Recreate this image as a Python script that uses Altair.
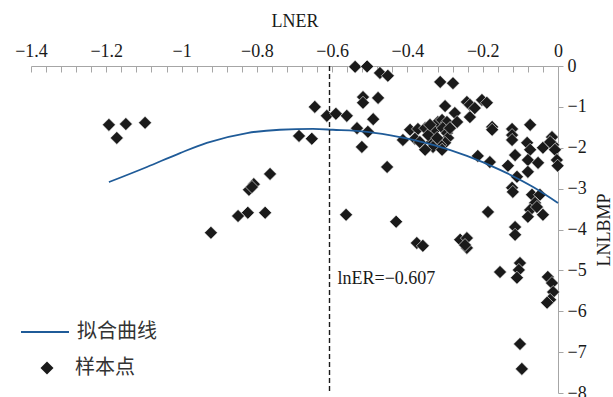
import altair as alt
import pandas as pd

# sample points (LNER, LNLBMP)
LNER = [-1.193, -1.148, -1.097, -1.172,
        -0.765, -0.808, -0.821, -0.813, -0.778, -0.824, -0.850, -0.922,
        -0.688, -0.654, -0.646, -0.614, -0.590, -0.561,
        -0.539, -0.507, -0.473, -0.452, -0.518, -0.518, -0.478, -0.491,
        -0.534, -0.505, -0.521, -0.454, -0.563, -0.430,
        -0.393, -0.372, -0.353, -0.380, -0.412, -0.367, -0.335, -0.327,
        -0.319, -0.308, -0.295, -0.300, -0.274, -0.268, -0.234, -0.242,
        -0.234, -0.221, -0.202, -0.189, -0.313, -0.279, -0.306, -0.295,
        -0.292, -0.300, -0.313, -0.332, -0.308,
        -0.345, -0.321, -0.287, -0.353, -0.340,
        -0.175, -0.175, -0.122, -0.122, -0.122, -0.074, -0.082, -0.074,
        -0.080, -0.114, -0.133, -0.040, -0.016, -0.013, -0.021, -0.008,
        -0.053, -0.003, -0.001, -0.213, -0.181, -0.080, -0.109,
        -0.122, -0.120, -0.069, -0.048, -0.061, -0.074, -0.080, -0.040,
        -0.056, -0.186, -0.114, -0.114, -0.260, -0.242, -0.242, -0.375,
        -0.359, -0.154, -0.101, -0.104, -0.109, -0.027, -0.016, -0.013,
        -0.021, -0.029, -0.101, -0.096, -0.247]
LNLBMP = [-1.44, -1.42, -1.39, -1.76,
          -2.64, -2.89, -3.03, -2.96, -3.59, -3.59, -3.67, -4.08,
          -1.71, -1.78, -1.00, -1.22, -1.17, -1.22,
          -0.02, -0.01, -0.17, -0.24, -0.76, -0.90, -0.78, -1.30,
          -1.52, -1.61, -1.98, -2.47, -3.64, -3.81,
          -1.56, -1.54, -1.52, -1.78, -1.81, -1.86, -1.86, -1.56,
          -1.37, -1.32, -1.37, -0.98, -1.15, -1.37, -1.25, -0.88,
          -0.95, -1.03, -0.83, -0.90, -0.39, -0.42, -1.52, -1.64,
          -1.76, -1.88, -1.93, -1.98, -2.05,
          -1.69, -1.76, -1.52, -2.05, -1.44,
          -1.49, -1.56, -1.54, -1.69, -1.81, -1.44, -1.88, -2.05,
          -2.30, -2.18, -2.44, -2.00, -1.74, -1.93, -1.86, -2.05,
          -2.37, -2.30, -2.44, -2.20, -2.35, -2.59, -2.71,
          -2.98, -3.08, -3.15, -3.15, -3.35, -3.52, -3.69, -3.64,
          -3.45, -3.57, -3.94, -4.13, -4.25, -4.21, -4.45, -4.33,
          -4.40, -5.04, -4.82, -4.99, -5.18, -5.16, -5.31, -5.53,
          -5.72, -5.79, -6.80, -7.41, -4.38]

# fitted curve
CURVE_X = [-1.193, -1.092, -1.004, -0.933, -0.826, -0.739, -0.651, -0.598,
           -0.507, -0.420, -0.332, -0.242, -0.154, -0.066, 0.0]
CURVE_Y = [-2.84, -2.47, -2.13, -1.88, -1.64, -1.56, -1.54, -1.56,
           -1.61, -1.74, -1.93, -2.20, -2.54, -2.96, -3.35]

TURN_X = [-0.607]
TURN_LABEL = ["lnER=\u22120.607"]
TURN_LABEL_Y = [-5.2]

X_TICKS = [-1.4, -1.2, -1.0, -0.8, -0.6, -0.4, -0.2, 0.0]
X_MINOR = [round(-1.4 + 0.04 * i, 2) for i in range(36)]
Y_TICKS = [-8, -7, -6, -5, -4, -3, -2, -1, 0]
LEGEND_LINE = "拟合曲线"
LEGEND_POINT = "样本点"

pts = pd.DataFrame({"LNER": LNER, "LNLBMP": LNLBMP, "kind": LEGEND_POINT})
curve = pd.DataFrame({"LNER": CURVE_X, "LNLBMP": CURVE_Y, "series": LEGEND_LINE})
vline = pd.DataFrame({"LNER": TURN_X, "label": TURN_LABEL, "ly": TURN_LABEL_Y})

SERIF = "Liberation Serif"
CJK = "Noto Sans CJK SC"
BLUE = "#1f5b98"
INK = "#1a1a1a"
GRAY = "#a6a6a6"

xs = alt.Scale(domain=[-1.4, 0], nice=False, zero=False)
ys = alt.Scale(domain=[-8, 0], nice=False, zero=False)

y_axis = alt.Axis(
    orient="right", title="LNLBMP", values=Y_TICKS, format="~g",
    grid=False, domainColor=GRAY, tickColor=GRAY, tickSize=5,
    labelFont=SERIF, labelFontSize=18, labelColor=INK, labelPadding=4,
    labelFlush=False, labelOverlap=False,
    titleFont=SERIF, titleFontSize=18, titleFontWeight="normal",
    titleColor=INK, titleAngle=270, titleBaseline="top", titlePadding=9)

points = alt.Chart(pts).mark_point(
    filled=True, size=170, color=INK, stroke="white", strokeWidth=0.6, opacity=1
).encode(
    x=alt.X("LNER:Q", scale=xs, axis=alt.Axis(
        orient="top", title="LNER", values=X_TICKS, format="~g",
        ticks=False, tickSize=0, domain=False, grid=False,
        labelFont=SERIF, labelFontSize=18, labelColor=INK, labelPadding=6,
        labelFlush=False, labelOverlap=False,
        titleFont=SERIF, titleFontSize=18, titleFontWeight="normal",
        titleColor=INK, titlePadding=12)),
    y=alt.Y("LNLBMP:Q", scale=ys, axis=y_axis),
    shape=alt.Shape("kind:N", scale=alt.Scale(domain=[LEGEND_POINT], range=["diamond"]),
                    legend=alt.Legend(orient="none", legendX=6, legendY=292, title=None,
                                      padding=0, symbolSize=170, symbolFillColor=INK,
                                      symbolStrokeWidth=0, labelOffset=18,
                                      labelFont=CJK, labelFontSize=20, labelColor="#333333")),
)

line = alt.Chart(curve).mark_line(strokeWidth=1.8, interpolate="monotone").encode(
    x=alt.X("LNER:Q", scale=xs, axis=alt.Axis(
        orient="bottom", offset=-327, title=None, values=X_MINOR, labels=False,
        grid=False, domainColor=GRAY, tickColor=GRAY, tickSize=6)),
    y=alt.Y("LNLBMP:Q", scale=ys, axis=y_axis),
    color=alt.Color("series:N", scale=alt.Scale(domain=[LEGEND_LINE], range=[BLUE]),
                    legend=alt.Legend(orient="none", legendX=-11, legendY=241, title=None,
                                      padding=0, symbolType="stroke", symbolSize=2304,
                                      symbolStrokeWidth=2, labelOffset=7,
                                      labelFont=CJK, labelFontSize=20, labelColor="#333333")),
)

rule = alt.Chart(vline).mark_rule(color=INK, strokeWidth=1.4, strokeDash=[5, 3]).encode(
    x=alt.X("LNER:Q", scale=xs, axis=None),
)

label = alt.Chart(vline).mark_text(
    align="left", baseline="middle", dx=8, font=SERIF, fontSize=18, color=INK
).encode(
    x=alt.X("LNER:Q", scale=xs, axis=None),
    y=alt.Y("ly:Q", scale=ys, axis=y_axis),
    text="label:N",
)

chart = alt.layer(points, line, rule, label).resolve_axis(x="independent").resolve_legend(
    color="independent", shape="independent"
).properties(
    width=527, height=327,
    padding={"left": 31, "top": 66, "right": 55, "bottom": 4},
    autosize=alt.AutoSizeParams(type="none"),
).configure_view(stroke=None)

chart.save("out.html", embed_options={"renderer": "svg", "actions": False})
